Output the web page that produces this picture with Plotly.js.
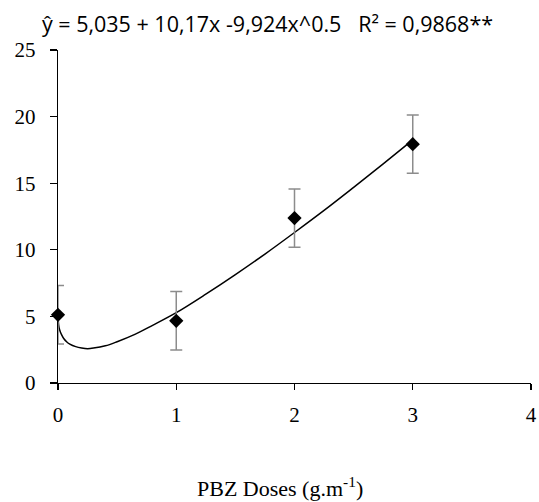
<!DOCTYPE html>
<html>
<head>
<meta charset="utf-8">
<script src="https://cdn.plot.ly/plotly-3.0.1.min.js"></script>
<style>html,body{margin:0;padding:0;background:#fff;}#chart{width:539px;height:502px;}</style>
</head>
<body>
<div id="chart"></div>
<script>
// Observed means and error
const doses = [0, 1, 2, 3];
const means = [5.12, 4.67, 12.38, 17.93];
const errors = [2.2, 2.2, 2.18, 2.19];

// Trend curve
const curveX = [0, 0.005, 0.01, 0.02, 0.03, 0.05, 0.075, 0.1, 0.15, 0.2, 0.25, 0.3, 0.4, 0.5, 0.65, 0.8, 1.0, 1.25, 1.5, 1.75, 2.0, 2.25, 2.5, 2.75, 3.0];
const curveY = [5.04, 4.38, 4.12, 3.83, 3.63, 3.32, 3.08, 2.92, 2.73, 2.63, 2.58, 2.62, 2.79, 3.10, 3.65, 4.33, 5.28, 6.67, 8.14, 9.68, 11.30, 12.96, 14.69, 16.45, 18.25];

const xTickVals = [0, 1, 2, 3, 4];
const yTickVals = [0, 5, 10, 15, 20, 25];

const titleText = "ŷ = 5,035 + 10,17x -9,924x^0.5\u00a0\u00a0\u00a0R² = 0,9868**";
const xTitleText = "PBZ Doses (g.m<sup>-1</sup>)";

const serif = "Liberation Serif";

const traces = [
  {
    x: curveX, y: curveY, type: 'scatter', mode: 'lines',
    line: {color: '#000', width: 1.5, shape: 'spline'},
    hoverinfo: 'skip', showlegend: false, cliponaxis: false
  },
  {
    x: doses, y: means, type: 'scatter', mode: 'markers',
    marker: {symbol: 'diamond', size: 11, color: '#000'},
    error_y: {type: 'data', array: errors, visible: true, color: '#8c8c8c', thickness: 1.5, width: 6},
    showlegend: false, cliponaxis: false
  }
];

const layout = {
  width: 539, height: 502,
  margin: {l: 58, r: 7.5, t: 50, b: 118.7},
  paper_bgcolor: '#fff', plot_bgcolor: '#fff',
  showlegend: false,
  font: {family: serif, size: 21, color: '#000'},
  title: {
    text: titleText,
    font: {family: "Open Sans", size: 21.5, color: '#000'},
    x: (35 + 500) / 2 / 539, xanchor: 'center', xref: 'container',
    y: 1 - 24/502, yanchor: 'middle', yref: 'container'
  },
  xaxis: {
    range: [0, 4], tickvals: xTickVals, ticktext: xTickVals.map(String),
    showgrid: false, zeroline: false, showline: true, linecolor: '#000', linewidth: 1.3,
    ticks: 'outside', ticklen: 6, tickcolor: '#000', tickwidth: 1.3,
    ticklabelstandoff: 6,
    tickfont: {family: serif, size: 21, color: '#000'},
    fixedrange: true
  },
  yaxis: {
    range: [0, 25], tickvals: yTickVals, ticktext: yTickVals.map(String),
    showgrid: false, zeroline: false, showline: true, linecolor: '#000', linewidth: 1.3,
    ticks: 'outside', ticklen: 7, tickcolor: '#000', tickwidth: 1.3,
    ticklabelstandoff: 10,
    tickfont: {family: serif, size: 21, color: '#000'},
    fixedrange: true
  },
  annotations: [{
    text: xTitleText, xref: 'paper', yref: 'paper',
    x: (280 - 58) / (531.5 - 58), y: -(487 - 383.3) / (383.3 - 50),
    xanchor: 'center', yanchor: 'middle', showarrow: false,
    font: {family: serif, size: 22, color: '#000'}
  }]
};

Plotly.newPlot('chart', traces, layout, {displayModeBar: false, staticPlot: true});
</script>
</body>
</html>
